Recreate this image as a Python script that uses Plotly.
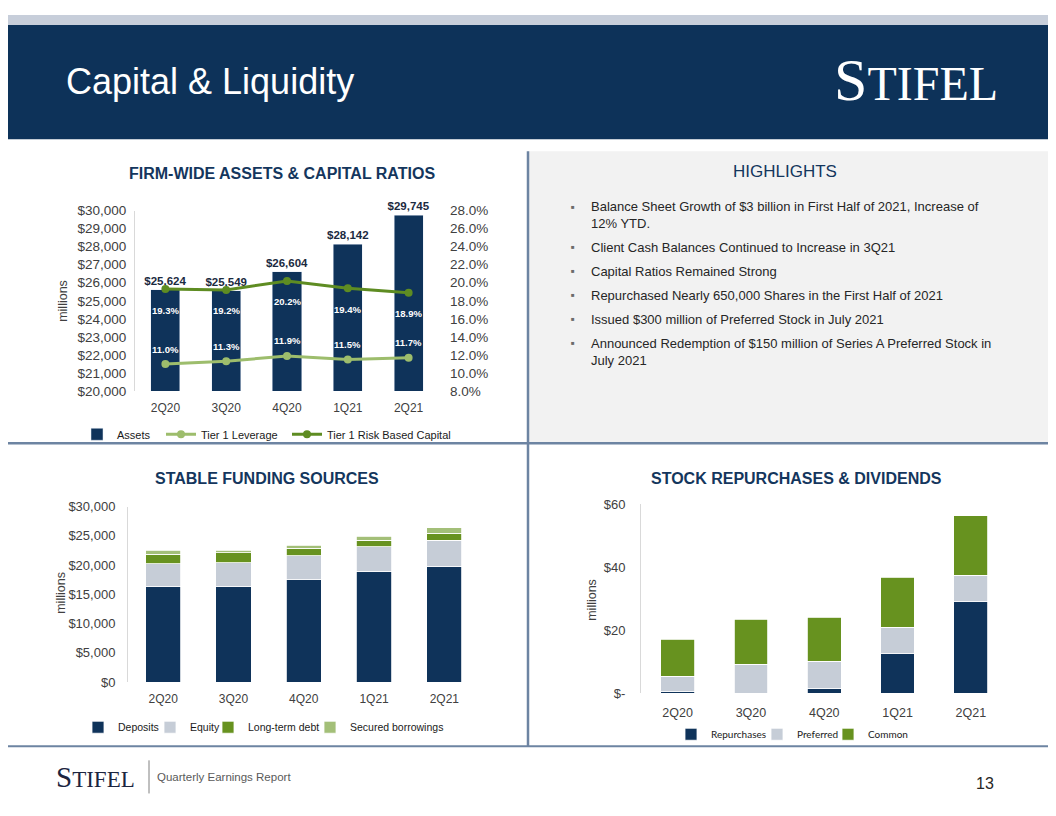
import plotly.graph_objects as go

# page is 1056x816; the browser keeps its default 8px body margin,
# so the figure is drawn 16px smaller and placed inside that margin.
# The photographed page is also squeezed a little vertically, which is
# compensated for when converting reference pixel rows to paper units.
PAGE_W, PAGE_H = 1056, 816
OFF = 8
W, H = PAGE_W - 2 * OFF, PAGE_H - 2 * OFF
V_SCALE, V_SHIFT = 0.978, 9.3

# ---------------- data ----------------
quarters = ["2Q20", "3Q20", "4Q20", "1Q21", "2Q21"]

assets = [25624, 25549, 26604, 28142, 29745]
tier1_leverage = [11.0, 11.3, 11.9, 11.5, 11.7]
tier1_risk = [19.3, 19.2, 20.2, 19.4, 18.9]

deposits = [16400, 16400, 17500, 18900, 19800]
equity = [3800, 4000, 4100, 4200, 4450]
long_term_debt = [1650, 1700, 1250, 1100, 1200]
secured_borrowings = [700, 450, 550, 750, 900]

repurchases = [0.6, 0.0, 1.6, 12.5, 29.0]
preferred = [4.7, 9.1, 8.5, 8.4, 8.4]
common = [11.8, 14.4, 14.0, 15.8, 18.8]
repurchase_tickvals = [0, 20, 40, 60]
repurchase_ticktext = ["$-", "$20", "$40", "$60"]

highlights = [
    "Balance Sheet Growth of $3 billion in First Half of 2021, Increase of<br>12% YTD.",
    "Client Cash Balances Continued to Increase in 3Q21",
    "Capital Ratios Remained Strong",
    "Repurchased Nearly 650,000 Shares in the First Half of 2021",
    "Issued $300 million of Preferred Stock in July 2021",
    "Announced Redemption of $150 million of Series A Preferred Stock in<br>July 2021",
]
highlight_rows = [208, 248, 272, 296, 320, 344]

# ---------------- style ----------------
NAVY = "#0f335a"
BAND = "#0d3259"
GREEN = "#67921f"
LGREEN = "#a3bf78"
LGRAY = "#c6cdd7"
RISK = "#5e8c22"
LEV = "#9dbd6c"
TXT = "#404040"
FONT = "Liberation Sans, Arial, sans-serif"
SERIF = "Liberation Serif, Times New Roman, serif"
DIV = "#6d84a2"


def px(x):
    return (x - OFF) / W


def py(y):
    page_y = (y - V_SHIFT) / V_SCALE
    return 1 - (page_y - OFF) / H


fig = go.Figure()
legends = {}
leg_i = [0]


def new_legend(x, y, font):
    leg_i[0] += 1
    key = "legend" if leg_i[0] == 1 else f"legend{leg_i[0]}"
    legends[key] = dict(x=px(x), y=py(y), xanchor="left", yanchor="middle", orientation="h",
                        font=font, itemwidth=30, bgcolor="rgba(0,0,0,0)", visible=True)
    return key


F1 = dict(family=FONT, size=11, color="#1a1a1a")
F2 = dict(family=FONT, size=10.5, color="#1a1a1a")
F3 = dict(family="Lato, sans-serif", size=10, color="#1a1a1a")

# ---- chart 1: assets & capital ratios ----
fig.add_trace(go.Bar(
    x=quarters, y=assets, name="Assets", marker_color=NAVY, width=0.48,
    text=[f"${v:,}" for v in assets], textposition="outside", constraintext="none",
    textfont=dict(family=FONT, size=11.5, color="#1b2a40", weight="bold"),
    cliponaxis=False, xaxis="x", yaxis="y", showlegend=True, legend=new_legend(77, 435, F1),
))
fig.add_trace(go.Scatter(
    x=quarters, y=tier1_leverage, name="Tier 1 Leverage", mode="lines+markers",
    line=dict(color=LEV, width=3), marker=dict(color=LEV, size=8),
    xaxis="x", yaxis="y2", showlegend=True, legend=new_legend(161, 435, F1),
))
fig.add_trace(go.Scatter(
    x=quarters, y=tier1_risk, name="Tier 1 Risk Based Capital", mode="lines+markers",
    line=dict(color=RISK, width=3), marker=dict(color=RISK, size=8),
    xaxis="x", yaxis="y2", showlegend=True, legend=new_legend(287, 435, F1),
))

# ---- chart 2: stable funding sources ----
for name, vals, col, lx in [("Deposits", deposits, NAVY, 78), ("Equity", equity, LGRAY, 150),
                            ("Long-term debt", long_term_debt, GREEN, 208),
                            ("Secured borrowings", secured_borrowings, LGREEN, 310)]:
    fig.add_trace(go.Bar(
        x=quarters, y=vals, name=name, marker=dict(color=col, line=dict(color="white", width=0.8)),
        width=0.5, xaxis="x2", yaxis="y3", showlegend=True, legend=new_legend(lx, 727, F2),
    ))

# ---- chart 3: repurchases & dividends ----
for name, vals, col, lx in [("Repurchases", repurchases, NAVY, 671), ("Preferred", preferred, LGRAY, 757),
                            ("Common", common, GREEN, 828)]:
    fig.add_trace(go.Bar(
        x=quarters, y=vals, name=name, marker=dict(color=col, line=dict(color="white", width=0.8)),
        width=0.46, xaxis="x3", yaxis="y4", showlegend=True, legend=new_legend(lx, 734, F3),
    ))

axis_common = dict(showgrid=False, zeroline=False, ticks="", fixedrange=True)

layout = dict(
    width=W, height=H, autosize=False, showlegend=True,
    margin=dict(l=0, r=0, t=0, b=0),
    paper_bgcolor="white", plot_bgcolor="rgba(0,0,0,0)",
    barmode="stack",
    font=dict(family=FONT, color=TXT),
    xaxis=dict(domain=[px(135), px(439)], anchor="y", showline=False,
               tickfont=dict(size=12, color=TXT), ticklabelstandoff=8, **axis_common),
    yaxis=dict(domain=[py(392), py(212)], anchor="x", range=[20000, 30000], dtick=1000,
               tickprefix="$", tickformat=",", showline=True, linecolor="#d9d9d9", linewidth=1,
               tickfont=dict(size=13.5, color=TXT), ticklabelstandoff=5, **axis_common),
    yaxis2=dict(overlaying="y", side="right", anchor="x", range=[8, 28], dtick=2,
                tickformat=".1f", ticksuffix="%", showline=False,
                tickfont=dict(size=13.5, color=TXT), ticklabelstandoff=10, **axis_common),
    xaxis2=dict(domain=[px(128), px(479.5)], anchor="y3", showline=False,
                tickfont=dict(size=12, color=TXT), ticklabelstandoff=8, **axis_common),
    yaxis3=dict(domain=[py(682), py(507)], anchor="x2", range=[0, 30000], dtick=5000,
                tickprefix="$", tickformat=",", showline=True, linecolor="#d9d9d9", linewidth=1,
                tickfont=dict(size=13, color=TXT), ticklabelstandoff=9, **axis_common),
    xaxis3=dict(domain=[px(641), px(1007.5)], anchor="y4", showline=False,
                tickfont=dict(size=12.5, color=TXT), ticklabelstandoff=10, **axis_common),
    yaxis4=dict(domain=[py(693), py(504.5)], anchor="x3", range=[0, 60],
                tickvals=repurchase_tickvals, ticktext=repurchase_ticktext,
                showline=True, linecolor="#d9d9d9", linewidth=1,
                tickfont=dict(size=13, color=TXT), ticklabelstandoff=12, **axis_common),
)
layout.update(legends)
fig.update_layout(**layout)

shapes = [
    dict(type="rect", xref="paper", yref="paper", x0=0, x1=1, y0=py(27), y1=1,
         fillcolor="#c7ceda", line_width=0, layer="below"),
    dict(type="rect", xref="paper", yref="paper", x0=0, x1=1, y0=py(141), y1=py(27),
         fillcolor=BAND, line_width=0, layer="below"),
    dict(type="rect", xref="paper", yref="paper", x0=px(528), x1=1, y0=py(444), y1=py(153),
         fillcolor="#f2f2f2", line_width=0, layer="below"),
    dict(type="line", xref="paper", yref="paper", x0=px(528), x1=px(528), y0=py(746), y1=py(153),
         line=dict(color=DIV, width=2.5)),
    dict(type="line", xref="paper", yref="paper", x0=0, x1=1, y0=py(444), y1=py(444),
         line=dict(color=DIV, width=2.5)),
    dict(type="line", xref="paper", yref="paper", x0=0, x1=1, y0=py(746), y1=py(746),
         line=dict(color=DIV, width=2)),
    dict(type="line", xref="paper", yref="paper", x0=px(149), x1=px(149), y0=py(793), y1=py(760),
         line=dict(color="#808080", width=1)),
]
fig.update_layout(shapes=shapes)

ann = []


def text(x, y, s, size, color, xanchor="center", yanchor="middle", family=FONT, bold=False, angle=0,
         align="left"):
    ann.append(dict(x=px(x), y=py(y), xref="paper", yref="paper", text=s, showarrow=False,
                    xanchor=xanchor, yanchor=yanchor, textangle=angle, align=align,
                    font=dict(family=family, size=size, color=color,
                              weight="bold" if bold else "normal")))


# header
text(64, 83, "Capital & Liquidity", 36, "white", xanchor="left")
text(1000, 82, "<span style='font-size:60px'>S</span>TIFEL", 48, "white", xanchor="right",
     family=SERIF)

# chart titles
text(282, 175, "FIRM-WIDE ASSETS &amp; CAPITAL RATIOS", 16, "#14365d", bold=True)
text(267, 479, "STABLE FUNDING SOURCES", 16, "#14365d", bold=True)
text(796, 479, "STOCK REPURCHASES &amp; DIVIDENDS", 16, "#14365d", bold=True)

# axis titles
text(63, 302, "millions", 12.5, TXT, angle=-90)
text(61, 593, "millions", 12.5, TXT, angle=-90)
text(592, 600, "millions", 12.5, TXT, angle=-90)

# highlights
text(785, 173, "HIGHLIGHTS", 17, "#14365d")
for row, item in zip(highlight_rows, highlights):
    text(573, row, "■", 6, "#6b6b6b")
    text(589, row - 9, item, 13, "#262626", xanchor="left", yanchor="top")

# footer
text(137, 777, "<span style='font-size:29px'>S</span>TIFEL", 23, "#1c2540", xanchor="right",
     family=SERIF)
text(155, 777, "Quarterly Earnings Report", 11.5, "#595959", xanchor="left")
text(985, 783, "13", 16, "#262626")

# data labels for ratio lines
for q, v in zip(quarters, tier1_risk):
    ann.append(dict(x=q, y=v, xref="x", yref="y2", text=f"{v:.1f}%", showarrow=False,
                    yshift=-21, font=dict(family=FONT, size=9.5, color="white", weight="bold")))
for q, v in zip(quarters, tier1_leverage):
    ann.append(dict(x=q, y=v, xref="x", yref="y2", text=f"{v:.1f}%", showarrow=False,
                    yshift=15, font=dict(family=FONT, size=9.5, color="white", weight="bold")))

fig.update_layout(annotations=ann)

fig.write_html("out.html", config={"displayModeBar": False})
